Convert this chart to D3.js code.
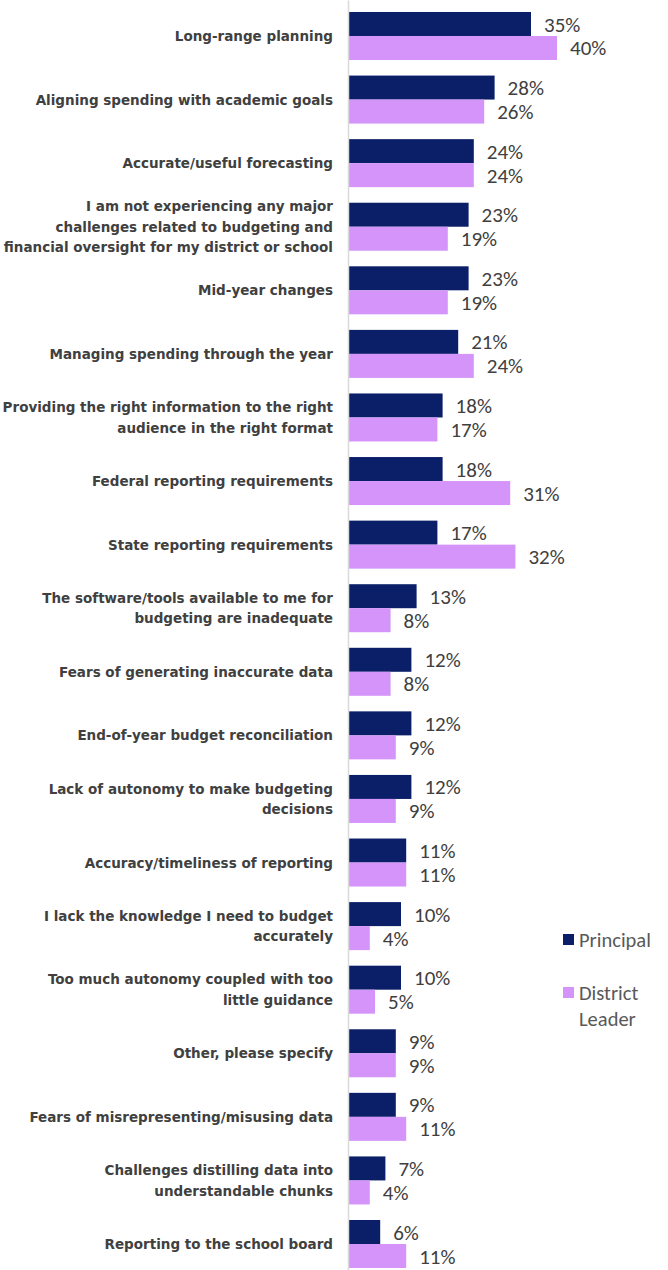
<!DOCTYPE html>
<html>
<head>
<meta charset="utf-8">
<script src="https://cdn.jsdelivr.net/npm/d3@7"></script>
<style>
  html, body { margin: 0; padding: 0; background: #ffffff; }
  svg { display: block; }
</style>
</head>
<body>
<svg id="chart" width="668" height="1270"></svg>
<script>
// Budgeting challenges reported by principals and district leaders (% of respondents)
const categories = [
  ["Long-range planning"],
  ["Aligning spending with academic goals"],
  ["Accurate/useful forecasting"],
  ["I am not experiencing any major", "challenges related to budgeting and", "financial oversight for my district or school"],
  ["Mid-year changes"],
  ["Managing spending through the year"],
  ["Providing the right information to the right", "audience in the right format"],
  ["Federal reporting requirements"],
  ["State reporting requirements"],
  ["The software/tools available to me for", "budgeting are inadequate"],
  ["Fears of generating inaccurate data"],
  ["End-of-year budget reconciliation"],
  ["Lack of autonomy to make budgeting", "decisions"],
  ["Accuracy/timeliness of reporting"],
  ["I lack the knowledge I need to budget", "accurately"],
  ["Too much autonomy coupled with too", "little guidance"],
  ["Other, please specify"],
  ["Fears of misrepresenting/misusing data"],
  ["Challenges distilling data into", "understandable chunks"],
  ["Reporting to the school board"]
];
const principal = [35, 28, 24, 23, 23, 21, 18, 18, 17, 13, 12, 12, 12, 11, 10, 10, 9, 9, 7, 6];
const districtLeader = [40, 26, 24, 19, 19, 24, 17, 31, 32, 8, 8, 9, 9, 11, 4, 5, 9, 11, 4, 11];
const seriesNames = ["Principal", "District Leader"];
const seriesColors = ["#0b1f69", "#d494fa"];

const svg = d3.select("#chart");
const keys = categories.map((c, i) => "c" + i);

const x = d3.scaleLinear().domain([0, 40]).range([349, 557]);
const y = d3.scaleBand().domain(keys).range([4.2, 1275.8]).paddingInner(0.245).paddingOuter(0.1225);
const ySub = d3.scaleBand().domain(seriesNames).range([0, y.bandwidth()]);

const rows = keys.map((k, i) => ({ key: k, lines: categories[i], values: [principal[i], districtLeader[i]] }));

// grouped bars
const g = svg.selectAll("g.row").data(rows).join("g")
  .attr("class", "row")
  .attr("transform", d => `translate(0,${y(d.key)})`);

g.selectAll("rect").data(d => d.values.map((v, j) => ({ v, s: seriesNames[j], c: seriesColors[j] }))).join("rect")
  .attr("x", x(0))
  .attr("y", d => ySub(d.s))
  .attr("width", d => x(d.v) - x(0))
  .attr("height", ySub.bandwidth())
  .attr("fill", d => d.c);

// value labels
g.selectAll("text.val").data(d => d.values.map((v, j) => ({ v, s: seriesNames[j] }))).join("text")
  .attr("class", "val")
  .attr("x", d => x(d.v) + 13)
  .attr("y", d => ySub(d.s) + ySub.bandwidth() / 2 + 7.5)
  .attr("font-family", "Carlito, Lato, sans-serif")
  .attr("font-size", 21)
  .attr("fill", "#404040")
  .text(d => d.v + "%");

// category labels, right aligned against the axis
const lineH = 20.5;
g.append("text")
  .attr("class", "cat")
  .attr("text-anchor", "end")
  .attr("font-family", "'DejaVu Sans', sans-serif")
  .attr("font-weight", "bold")
  .attr("font-size", 13.5)
  .attr("fill", "#404040")
  .each(function(d) {
    const n = d.lines.length;
    const t = d3.select(this);
    d.lines.forEach((line, i) => {
      t.append("tspan")
        .attr("x", 333)
        .attr("y", y.bandwidth() / 2 + (i - (n - 1) / 2) * lineH + 5)
        .text(line);
    });
  });

// vertical category axis
const axis = svg.append("g")
  .attr("transform", `translate(${x(0) - 1},0)`)
  .call(d3.axisLeft(d3.scaleLinear().range([0, 1270])).ticks(0).tickSize(0).tickFormat(""));
axis.select(".domain").attr("stroke", "#d9d9d9").attr("stroke-width", 1.5);

// legend
const legend = svg.append("g");
const legendItems = [
  { name: "Principal", lines: ["Principal"], color: seriesColors[0], y: 934 },
  { name: "District Leader", lines: ["District", "Leader"], color: seriesColors[1], y: 987 }
];
const li = legend.selectAll("g").data(legendItems).join("g");
li.append("rect").attr("x", 563).attr("y", d => d.y).attr("width", 11).attr("height", 11).attr("fill", d => d.color);
li.append("text")
  .attr("font-family", "Carlito, Lato, sans-serif")
  .attr("font-size", 20.5)
  .attr("fill", "#595959")
  .each(function(d) {
    const t = d3.select(this);
    d.lines.forEach((line, i) => {
      t.append("tspan").attr("x", 579).attr("y", d.y + 12.5 + i * 26).text(line);
    });
  });
</script>
</body>
</html>
